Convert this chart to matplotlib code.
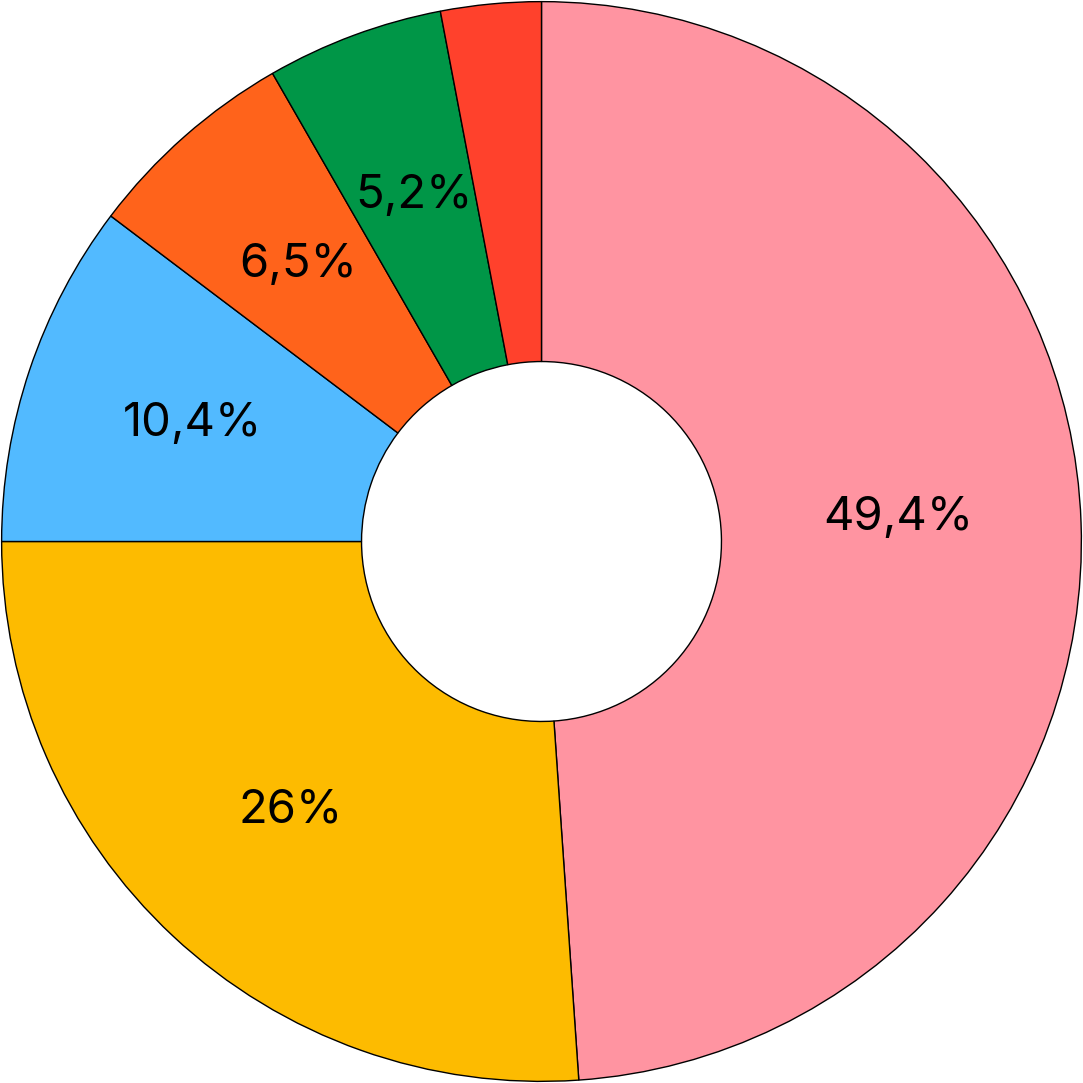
import numpy as np
import matplotlib.pyplot as plt

# slice sizes, clockwise from the top
sizes = [48.9, 26.1, 10.3, 6.4, 5.3, 3.0]
labels = ["49,4%", "26%", "10,4%", "6,5%", "5,2%", ""]
colors = ["#FF94A1", "#FDBB00", "#52BAFF", "#FF631B", "#009647", "#FF412C"]

fig = plt.figure(figsize=(10.83, 10.83), dpi=100)
ax = fig.add_axes([0, 0, 1, 1])

wedges, _ = ax.pie(sizes, colors=colors, startangle=90, counterclock=False,
                   radius=0.997,
                   wedgeprops=dict(width=0.997 * 2 / 3, edgecolor="black", linewidth=1))

for w, lab in zip(wedges, labels):
    if not lab:
        continue
    mid = np.deg2rad((w.theta1 + w.theta2) / 2)
    r = 0.68 if lab != "49,4%" else 0.66
    x, y = r * np.cos(mid), r * np.sin(mid)
    if lab == "49,4%":
        y += 0.02
    ax.text(x, y, lab, ha="center", va="center", fontsize=34,
            family=["Inter", "DejaVu Sans"], color="black")

ax.set_xlim(-1, 1)
ax.set_ylim(-1, 1)
ax.set_aspect("equal")
ax.axis("off")
fig.savefig("out.png", dpi=100, facecolor="white")
